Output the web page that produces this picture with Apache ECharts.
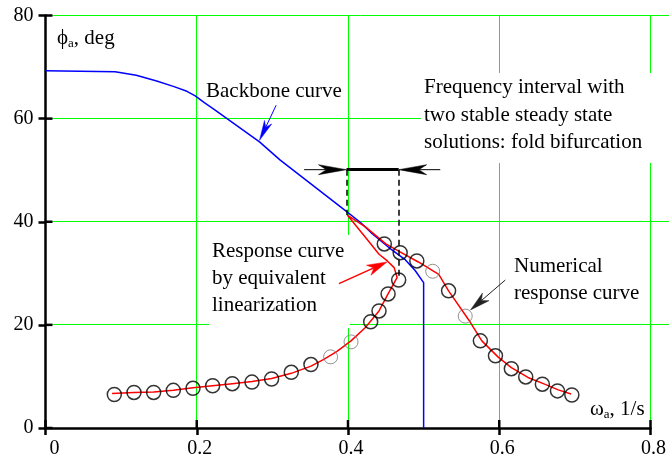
<!DOCTYPE html>
<html>
<head>
<meta charset="utf-8">
<script src="https://cdn.jsdelivr.net/npm/echarts@6/dist/echarts.min.js"></script>
<style>html,body{margin:0;padding:0;background:#fff}#c{width:669px;height:462px}</style>
</head>
<body>
<div id="c"></div>
<script>
// Backbone curve (blue)
const backboneX = [0, 0.092, 0.120, 0.147, 0.170, 0.187, 0.198, 0.210, 0.222, 0.283, 0.310, 0.397, 0.417, 0.432, 0.454, 0.476, 0.489, 0.500, 0.500];
const backboneY = [69.3, 69.1, 68.4, 67.3, 66.2, 65.3, 64.4, 63.1, 61.9, 55.5, 52.0, 42.1, 39.8, 37.7, 35.0, 32.6, 30.5, 28.2, 0];
// Response curve by equivalent linearization (red)
const responseX = [0.088, 0.117, 0.143, 0.169, 0.195, 0.221, 0.247, 0.273, 0.299, 0.325, 0.351, 0.368, 0.385, 0.404, 0.423, 0.441, 0.453, 0.465, 0.461, 0.452, 0.441, 0.423, 0.399, 0.423, 0.450, 0.467, 0.493, 0.520, 0.533, 0.559, 0.577, 0.599, 0.616, 0.638, 0.660, 0.678, 0.695];
const responseY = [6.7, 6.9, 7.0, 7.3, 7.8, 8.2, 8.6, 9.0, 9.6, 10.6, 12.0, 13.3, 14.8, 16.9, 19.5, 22.7, 26.0, 29.2, 31.1, 32.4, 33.7, 37.0, 41.3, 39.0, 35.7, 34.3, 32.2, 29.8, 26.6, 21.1, 16.9, 13.7, 11.7, 9.8, 8.5, 7.4, 6.6];
// Numerical response (circles)
const numericalX = [0.091, 0.117, 0.143, 0.169, 0.195, 0.221, 0.247, 0.273, 0.299, 0.325, 0.351, 0.430, 0.441, 0.453, 0.467, 0.448, 0.469, 0.491, 0.533, 0.575, 0.595, 0.616, 0.635, 0.657, 0.677, 0.696];
const numericalY = [6.5, 6.9, 6.9, 7.3, 7.7, 8.2, 8.6, 8.9, 9.5, 10.8, 12.3, 20.6, 22.7, 26.0, 28.7, 35.7, 34.0, 32.4, 26.6, 16.9, 14.0, 11.5, 9.9, 8.5, 7.2, 6.4];
// Numerical response, lighter circles
const numericalGrayX = [0.377, 0.404, 0.512, 0.555];
const numericalGrayY = [13.8, 16.7, 30.4, 21.7];
// Axis ticks
const xTicks = [0, 0.2, 0.4, 0.6, 0.8];
const yTicks = [0, 20, 40, 60, 80];
// Fold interval
const foldX = [0.398, 0.467];
const foldLevel = 50.1;
const foldLowY = [41.3, 29.5];
// Annotation arrows: tail and tip points
const arrowTail = [[0.305, 62.6], [0.388, 28.0], [0.608, 28.7], [0.342, 50.1], [0.522, 50.1]];
const arrowTip = [[0.283, 55.8], [0.4515, 32.2], [0.562, 22.9], [0.398, 50.1], [0.467, 50.1]];

const zip = (a, b) => a.map((v, i) => [v, b[i]]);
const FONT = 'Liberation Serif';
const arrowStyle = [
  {color: '#0000ff', lw: 1, L: 20, W: 8},
  {color: '#ff0000', lw: 1.5, L: 20, W: 11},
  {color: '#222222', lw: 1, L: 20, W: 10},
  {color: '#000000', lw: 1, L: 28, W: 10},
  {color: '#000000', lw: 1, L: 28, W: 10}
];
const chart = echarts.init(document.getElementById('c'), null, {renderer: 'canvas'});
const tickStyle = {color: '#000', width: 2.5};
const GREEN = '#00ff00';
const xMin = xTicks[0], xMax = xTicks[xTicks.length - 1];
const yMin = yTicks[0], yMax = yTicks[yTicks.length - 1];
const snap = v => Math.round(v - 0.5) + 0.5;

const option = {
  animation: false,
  grid: {left: 45.5, right: 15.5, top: 15.5, bottom: 34, containLabel: false},
  xAxis: {type: 'value', min: xMin, max: xMax, interval: 0.2,
     axisLine: {show: true, onZero: false, lineStyle: tickStyle},
     axisTick: {show: true, inside: false, length: 7, lineStyle: tickStyle},
     axisLabel: {fontFamily: FONT, fontSize: 20, color: '#000', margin: 11,
       formatter: v => v === 0 ? '{z|0}' : '{n|' + (+v).toFixed(1) + '}',
       rich: {z: {fontFamily: FONT, fontSize: 20, color: '#000', padding: [0, 0, 0, 18]},
              n: {fontFamily: FONT, fontSize: 20, color: '#000', padding: [0, 0, 0, 6]}}},
     splitLine: {show: false}},
  yAxis: {type: 'value', min: yMin, max: yMax, interval: 20,
     axisLine: {show: true, onZero: false, lineStyle: tickStyle},
     axisTick: {show: true, inside: false, length: 7, lineStyle: tickStyle},
     axisLabel: {fontFamily: FONT, fontSize: 20, color: '#000', margin: 12},
     splitLine: {show: false}},
  graphic: [
    {type: 'rect', z: 1, shape: {x: 421, y: 73, width: 248, height: 90}, style: {fill: '#fff'}},
    {type: 'rect', z: 1, shape: {x: 209, y: 235, width: 141, height: 93}, style: {fill: '#fff'}},
    {type: 'text', z: 100, style: {x: 57, y: 26, text: '{f|ϕ}{s|a}{f|, deg}',
      rich: {f: {fontFamily: FONT, fontSize: 21, lineHeight: 24, fill: '#000', color: '#000'},
             s: {fontFamily: FONT, fontSize: 13, lineHeight: 14, verticalAlign: 'bottom', fill: '#000', color: '#000'}}}},
    {type: 'text', z: 100, style: {x: 590, y: 397, text: '{f|ω}{s|a}{f|, 1/s}',
      rich: {f: {fontFamily: FONT, fontSize: 21, lineHeight: 24, fill: '#000', color: '#000'},
             s: {fontFamily: FONT, fontSize: 13, lineHeight: 12, verticalAlign: 'bottom', fill: '#000', color: '#000'}}}},
    {type: 'text', z: 100, style: {x: 206, y: 78, text: 'Backbone curve', font: '21px "Liberation Serif"', fill: '#000', lineHeight: 27}},
    {type: 'text', z: 100, style: {x: 424, y: 74, text: 'Frequency interval with\ntwo stable steady state\nsolutions: fold bifurcation', font: '21px "Liberation Serif"', fill: '#000', lineHeight: 27.5}},
    {type: 'text', z: 100, style: {x: 212, y: 238.5, text: 'Response curve\nby equivalent\nlinearization', font: '21px "Liberation Serif"', fill: '#000', lineHeight: 26.7}},
    {type: 'text', z: 100, style: {x: 514, y: 252.5, text: 'Numerical\nresponse curve', font: '21px "Liberation Serif"', fill: '#000', lineHeight: 27.3}}
  ],
  series: [
    // green grid: vertical lines
    {type: 'custom', name: 'xGrid', silent: true, z: 0, clip: false,
     data: xTicks.slice(1).map(v => [v]),
     renderItem: (params, api) => {
       const p0 = api.coord([api.value(0), yMin]);
       const p1 = api.coord([api.value(0), yMax]);
       const x = snap(p0[0]);
       return {type: 'line', shape: {x1: x, y1: p1[1], x2: x, y2: p0[1] - 1}, style: {stroke: GREEN, lineWidth: 1}};
     }},
    // green grid: horizontal lines (running out to the right edge)
    {type: 'custom', name: 'yGrid', silent: true, z: 0, clip: false,
     data: yTicks.slice(1).map(v => [v]),
     renderItem: (params, api) => {
       const p0 = api.coord([xMin, api.value(0)]);
       const y = snap(p0[1]);
       return {type: 'line', shape: {x1: p0[0] + 7, y1: y, x2: api.getWidth(), y2: y}, style: {stroke: GREEN, lineWidth: 1}};
     }},
    {type: 'line', name: 'Backbone', data: zip(backboneX, backboneY), showSymbol: false, symbol: 'none', silent: true,
     lineStyle: {color: '#0000ff', width: 1.5}, z: 3},
    {type: 'line', name: 'Linearization', data: zip(responseX, responseY), showSymbol: false, symbol: 'none', silent: true,
     lineStyle: {color: '#ff0000', width: 1.5}, z: 4},
    {type: 'scatter', name: 'Numerical', data: zip(numericalX, numericalY), symbol: 'circle', symbolSize: 14, silent: true,
     itemStyle: {color: 'rgba(0,0,0,0)', borderColor: '#000', borderWidth: 1.5}, z: 5},
    {type: 'scatter', name: 'NumericalGray', data: zip(numericalGrayX, numericalGrayY), symbol: 'circle', symbolSize: 14, silent: true,
     itemStyle: {color: 'rgba(0,0,0,0)', borderColor: '#777', borderWidth: 1}, z: 5},
    // inward half of axis ticks on the x axis
    {type: 'custom', name: 'xTicksIn', silent: true, z: 6, clip: false,
     data: xTicks.map(v => [v, yMin]),
     renderItem: (params, api) => {
       const p = api.coord([api.value(0), api.value(1)]);
       return {type: 'line', shape: {x1: p[0], y1: p[1], x2: p[0], y2: p[1] - 8}, style: {stroke: '#000', lineWidth: 2.5}};
     }},
    // inward half of axis ticks on the y axis
    {type: 'custom', name: 'yTicksIn', silent: true, z: 6, clip: false,
     data: yTicks.map(v => [xMin, v]),
     renderItem: (params, api) => {
       const p = api.coord([api.value(0), api.value(1)]);
       return {type: 'line', shape: {x1: p[0], y1: p[1], x2: p[0] + 7, y2: p[1]}, style: {stroke: '#000', lineWidth: 2.5}};
     }},
    // fold interval: thick segment and dashed drops
    {type: 'scatter', name: 'fold', data: [], silent: true, z: 6,
     markLine: {silent: true, animation: false, label: {show: false}, symbol: ['none', 'none'],
      data: [
        [{coord: [foldX[0], foldLevel], lineStyle: {color: '#000', width: 3, type: 'solid'}}, {coord: [foldX[1], foldLevel]}],
        [{coord: [foldX[0], foldLevel], lineStyle: {color: '#000', width: 1.5, type: [6, 4]}}, {coord: [foldX[0], foldLowY[0]]}],
        [{coord: [foldX[1], foldLevel], lineStyle: {color: '#000', width: 1.5, type: [6, 4]}}, {coord: [foldX[1], foldLowY[1]]}]
      ]}},
    // annotation arrows
    {type: 'custom', name: 'arrows', silent: true, z: 7, clip: false,
     data: arrowTail.map((t, i) => [t[0], t[1], arrowTip[i][0], arrowTip[i][1]]),
     renderItem: (params, api) => {
       const s = arrowStyle[params.dataIndex];
       const a = api.coord([api.value(0), api.value(1)]);
       const b = api.coord([api.value(2), api.value(3)]);
       const dx = b[0] - a[0], dy = b[1] - a[1];
       const len = Math.hypot(dx, dy) || 1;
       const ux = dx / len, uy = dy / len, nx = -uy, ny = ux;
       const bx = b[0] - s.L * ux, by = b[1] - s.L * uy;
       const mx = b[0] - 0.72 * s.L * ux, my = b[1] - 0.72 * s.L * uy;
       return {type: 'group', children: [
         {type: 'line', shape: {x1: a[0], y1: a[1], x2: mx, y2: my}, style: {stroke: s.color, lineWidth: s.lw}},
         {type: 'polygon', shape: {points: [[b[0], b[1]], [bx + nx * s.W / 2, by + ny * s.W / 2], [mx, my], [bx - nx * s.W / 2, by - ny * s.W / 2]]},
          style: {fill: s.color, stroke: s.color, lineWidth: 0.5}}
       ]};
     }}
  ]
};
chart.setOption(option);
</script>
</body>
</html>
